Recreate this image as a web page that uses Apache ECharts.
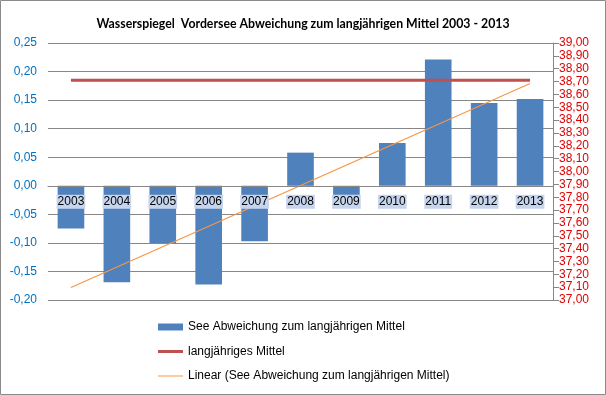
<!DOCTYPE html>
<html>
<head>
<meta charset="utf-8">
<script src="https://cdn.jsdelivr.net/npm/echarts@6/dist/echarts.min.js"></script>
<style>
html,body{margin:0;padding:0;background:#fff;}
#c{width:606px;height:395px;}
</style>
</head>
<body>
<div id="c"></div>
<script>
var years = ['2003','2004','2005','2006','2007','2008','2009','2010','2011','2012','2013'];
var deviation = [-0.075, -0.169, -0.100, -0.173, -0.097, 0.058, -0.016, 0.075, 0.221, 0.145, 0.152];
var longTermMean = [38.71, 38.71, 38.71, 38.71, 38.71, 38.71, 38.71, 38.71, 38.71, 38.71, 38.71];
var trend = [-0.178, null, null, null, null, null, null, null, null, null, 0.179];
var seriesNames = ['See Abweichung zum langjährigen Mittel', 'langjähriges Mittel', 'Linear (See Abweichung zum langjährigen Mittel)'];
var titleText = 'Wasserspiegel  Vordersee Abweichung zum langjährigen Mittel 2003 - 2013';

var chart = echarts.init(document.getElementById('c'), null, {renderer: 'canvas'});
function comma(v){ return v.toFixed(2).replace('.', ','); }
var gridTop = 43, gridBottom = 95, H = 395;
chart.setOption({
  animation: false,
  backgroundColor: '#fff',
  graphic: [{
    type: 'rect', silent: true, z: 100,
    shape: {x: 0.5, y: 0.5, width: 605, height: 394},
    style: {fill: 'none', stroke: '#8a8a8a', lineWidth: 1}
  }],
  title: {
    text: titleText, left: 'center', top: 13,
    textStyle: {fontFamily: 'Lato', fontWeight: 'bold', fontSize: 12.3, color: '#000'}
  },
  legend: {
    orient: 'vertical', left: 158, top: 320, padding: 0, itemWidth: 25, itemHeight: 7, itemGap: 10.5,
    textStyle: {fontFamily: 'Liberation Sans', fontSize: 12, lineHeight: 14, color: '#000'},
    data: [
      {name: seriesNames[0], icon: 'rect'},
      {name: seriesNames[1], icon: 'path://M0,0H25V3H0Z'},
      {name: seriesNames[2], icon: 'path://M0,0H25V1H0Z'}
    ]
  },
  grid: {left: 48, right: 53, top: gridTop, bottom: gridBottom, containLabel: false},
  xAxis: {
    type: 'category', data: years, z: 10,
    axisLine: {show: true, onZero: false, lineStyle: {color: '#878787'}},
    axisTick: {show: false},
    axisLabel: {margin: 9, fontFamily: 'Liberation Sans', fontSize: 12, color: '#000',
      backgroundColor: '#c6d5ee', padding: [1, 1, 1, 1]}
  },
  yAxis: [{
    type: 'value', min: -0.2, max: 0.25, interval: 0.05,
    axisLine: {show: false}, axisTick: {show: false},
    splitLine: {lineStyle: {color: '#878787', width: 1}},
    axisLabel: {formatter: comma, margin: 11, fontFamily: 'Liberation Sans', fontSize: 12, color: '#0070c0'}
  }, {
    type: 'value', min: 37, max: 39, interval: 0.1, position: 'right',
    axisLine: {show: true, lineStyle: {color: '#878787'}},
    axisTick: {show: true, length: 6, lineStyle: {color: '#878787'}},
    splitLine: {show: false},
    axisLabel: {formatter: comma, margin: 6, fontFamily: 'Liberation Sans', fontSize: 12, color: '#e00000'}
  }],
  series: [{
    name: seriesNames[0], type: 'bar', data: deviation, barCategoryGap: '42%',
    itemStyle: {color: '#4f81bd'}
  }, {
    name: seriesNames[1], type: 'line', yAxisIndex: 1, data: longTermMean, symbol: 'none',
    lineStyle: {color: '#c0504d', width: 3}, itemStyle: {color: '#c0504d'}
  }, {
    name: seriesNames[2], type: 'line', data: trend, connectNulls: true, symbol: 'none', z: 5,
    lineStyle: {color: '#f79646', width: 1.2}, itemStyle: {color: '#f79646'}
  }]
});
// move the category axis (with its labels) onto the zero line of the left axis
var zeroY = chart.convertToPixel({yAxisIndex: 0}, 0);
chart.setOption({xAxis: {offset: zeroY - (H - gridBottom)}});
</script>
</body>
</html>
